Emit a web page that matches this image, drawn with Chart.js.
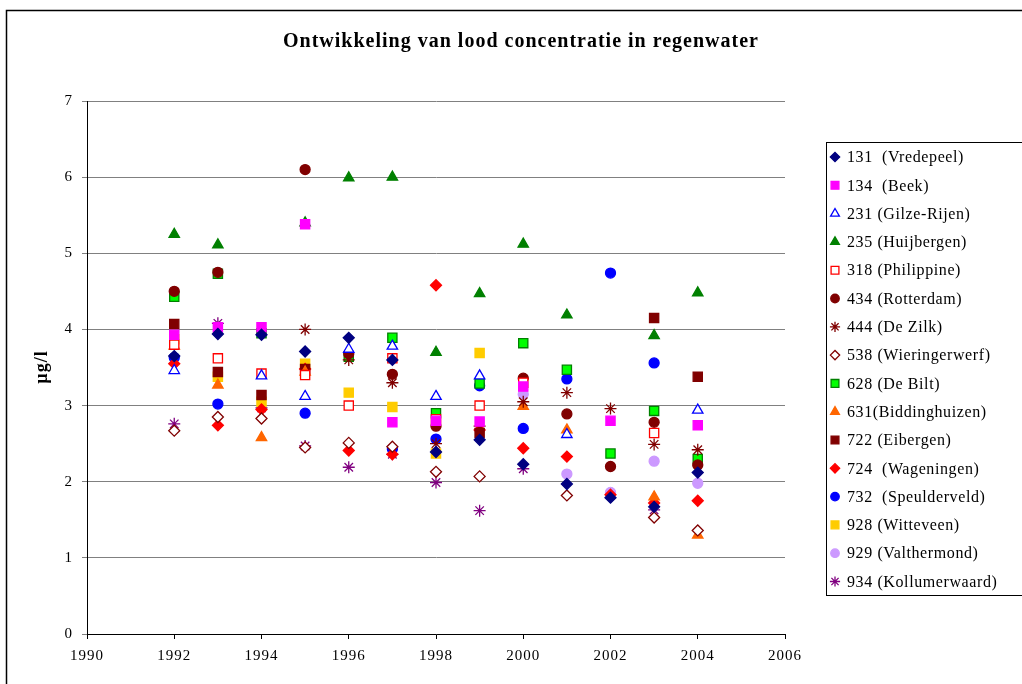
<!DOCTYPE html>
<html>
<head>
<meta charset="utf-8">
<script src="https://cdn.jsdelivr.net/npm/chart.js@4/dist/chart.umd.min.js"></script>
<style>
  body { margin: 0; background: #fff; }
  #wrap { position: relative; width: 1022px; height: 684px; }
</style>
</head>
<body>
<div id="wrap"><canvas id="leadChart" width="1022" height="684"></canvas></div>
<script>
const years = [1992, 1993, 1994, 1995, 1996, 1997, 1998, 1999, 2000, 2001, 2002, 2003, 2004];
const xTicks = [1990, 1992, 1994, 1996, 1998, 2000, 2002, 2004, 2006];
const yTicks = [0, 1, 2, 3, 4, 5, 6, 7];

const stations = ["131  (Vredepeel)", "134  (Beek)", "231 (Gilze-Rijen)", "235 (Huijbergen)",
    "318 (Philippine)", "434 (Rotterdam)", "444 (De Zilk)", "538 (Wieringerwerf)",
    "628 (De Bilt)", "631(Biddinghuizen)", "722 (Eibergen)", "724  (Wageningen)",
    "732  (Speulderveld)", "928 (Witteveen)", "929 (Valthermond)", "934 (Kollumerwaard)"];

// values per station, 1992 .. 2004 (null = no measurement)
const vredepeel     = [3.65, 3.94, 3.93, 3.71, 3.89, 3.60, 2.39, 2.55, 2.23, 1.97, 1.79, 1.67, 2.12];
const beek          = [3.93, 4.03, 4.03, 5.38, null, 2.78, 2.80, 2.79, 3.25, null, 2.80, null, 2.74];
const gilzeRijen    = [3.46, null, 3.39, 3.12, 3.74, 3.78, 3.12, 3.39, null, 2.62, null, null, 2.94];
const huijbergen    = [5.25, 5.11, null, 5.40, 5.99, 6.00, 3.70, 4.47, 5.12, 4.19, null, 3.92, 4.48];
const philippine    = [3.80, 3.62, 3.42, 3.40, 3.00, 3.62, 2.82, 3.00, 3.30, null, null, 2.64, null];
const rotterdam     = [4.50, 4.75, null, 6.10, 3.68, 3.41, 2.73, null, 3.36, 2.89, 2.20, 2.78, 2.22];
const deZilk        = [null, null, null, 4.00, 3.60, 3.30, 2.50, 2.73, 3.05, 3.17, 2.96, 2.49, 2.42];
const wieringerwerf = [2.67, 2.85, 2.83, 2.45, 2.51, 2.46, 2.13, 2.07, null, 1.82, null, 1.53, 1.36];
const deBilt        = [4.43, 4.73, 3.95, null, 3.64, 3.89, 2.90, 3.29, 3.82, 3.47, 2.37, 2.93, 2.30];
const biddinghuizen = [3.78, 3.27, 2.58, 3.44, null, null, null, null, 2.99, 2.68, null, 1.80, 1.30];
const eibergen      = [4.07, 3.44, 3.14, 3.48, null, null, null, 2.64, null, null, null, 4.15, 3.38];
const wageningen    = [3.55, 2.74, 2.95, 3.48, 2.41, 2.36, 4.58, 2.68, 2.44, 2.33, 1.83, 1.72, 1.75];
const speulderveld  = [3.63, 3.02, null, 2.90, null, 2.43, 2.56, 3.26, 2.70, 3.35, 4.74, 3.56, null];
const witteveen     = [3.87, 3.38, 3.05, 3.55, 3.17, 2.98, 2.37, 3.69, null, null, null, null, null];
const valthermond   = [null, null, null, null, null, null, null, null, 3.15, 2.10, 1.86, 2.27, 1.98];
const kollumerwaard = [2.76, 4.08, 2.97, 2.47, 2.19, 2.36, 1.99, 1.62, 2.17, null, null, 1.63, null];

const seriesValues = [vredepeel, beek, gilzeRijen, huijbergen, philippine, rotterdam, deZilk,
    wieringerwerf, deBilt, biddinghuizen, eibergen, wageningen, speulderveld, witteveen,
    valthermond, kollumerwaard];

// marker style for each station: [pointStyle, fill, border, radius]
const markers = [
    ["rectRot", "#000080", "#000080", 5.5],
    ["rect", "#ff00ff", "#ff00ff", 6.5],
    ["triangle", "#ffffff", "#0000ff", 6],
    ["triangle", "#008000", "#008000", 6],
    ["rect", "#ffffff", "#ff0000", 6.5],
    ["circle", "#800000", "#800000", 5],
    ["star", "#800000", "#800000", 6],
    ["rectRot", "#ffffff", "#800000", 5.5],
    ["rect", "#00ff00", "#008000", 6.5],
    ["triangle", "#ff6600", "#ff6600", 6],
    ["rect", "#800000", "#800000", 6.5],
    ["rectRot", "#ff0000", "#ff0000", 5.5],
    ["circle", "#0000ff", "#0000ff", 5],
    ["rect", "#ffcc00", "#ffcc00", 6.5],
    ["circle", "#cc99ff", "#cc99ff", 5],
    ["star", "#800080", "#800080", 6]
];

const datasets = stations.map((name, i) => ({
    label: name,
    data: years.map((yr, j) => ({ x: yr, y: seriesValues[i][j] })).filter(p => p.y !== null),
    pointStyle: markers[i][0],
    backgroundColor: markers[i][1],
    borderColor: markers[i][2],
    pointRadius: markers[i][3],
    pointBorderWidth: 1.3,
    showLine: false
}));

const serif = "'Liberation Serif', 'DejaVu Serif', serif";

// wider letter spacing, like the original rendering
const spacing = {
    id: "spacing",
    beforeDraw(chart) { chart.ctx.letterSpacing = "1px"; }
};

// title, y label, frame and legend box
const decor = {
    id: "decor",
    afterDraw(chart) {
        const ctx = chart.ctx;
        ctx.save();
        ctx.strokeStyle = "#000";
        ctx.lineWidth = 1.5;
        ctx.strokeRect(6.5, 10.5, 1030, 700);

        ctx.fillStyle = "#000";
        ctx.textAlign = "center";
        ctx.textBaseline = "middle";
        ctx.letterSpacing = "1px";
        ctx.font = "bold 20px " + serif;
        ctx.fillText("Ontwikkeling van lood concentratie in regenwater", 521, 42);

        ctx.save();
        ctx.translate(42, 367);
        ctx.rotate(-Math.PI / 2);
        ctx.font = "bold 18px " + serif;
        ctx.fillText("µg/l", 0, 0);
        ctx.restore();

        // legend
        ctx.lineWidth = 1;
        ctx.strokeRect(826.5, 142.5, 220, 453);
        ctx.font = "16px " + serif;
        ctx.letterSpacing = "0.6px";
        ctx.textAlign = "left";
        chart.data.datasets.forEach((ds, i) => {
            const y = 157 + i * 28.3;
            ctx.fillStyle = ds.backgroundColor;
            ctx.strokeStyle = ds.borderColor;
            ctx.lineWidth = 1.3;
            Chart.helpers.drawPoint(ctx, {
                pointStyle: ds.pointStyle,
                radius: ds.pointRadius * 0.85,
                borderWidth: 1.3
            }, 835, y);
            ctx.fillStyle = "#000";
            ctx.fillText(ds.label, 847, y + 1);
        });
        ctx.restore();
    }
};

new Chart(document.getElementById("leadChart"), {
    type: "scatter",
    data: { datasets: datasets },
    options: {
        responsive: false,
        animation: false,
        layout: { padding: { top: 101, right: 237, bottom: 0, left: 0 } },
        plugins: {
            legend: { display: false },
            title: { display: false },
            tooltip: { enabled: false }
        },
        scales: {
            x: {
                type: "linear",
                min: xTicks[0],
                max: xTicks[xTicks.length - 1],
                afterBuildTicks: s => { s.ticks = xTicks.map(v => ({ value: v })); },
                afterFit: s => { s.height = 50; },
                grid: { drawOnChartArea: false, drawTicks: true, tickLength: 5, color: "#000" },
                border: { color: "#000", width: 1 },
                ticks: { color: "#000", font: { family: serif, size: 15 }, padding: 8,
                    callback: v => String(v) }
            },
            y: {
                min: yTicks[0],
                max: yTicks[yTicks.length - 1],
                afterBuildTicks: s => { s.ticks = yTicks.map(v => ({ value: v })); },
                afterFit: s => { s.width = 87; },
                grid: { color: "#808080", lineWidth: 1, drawTicks: true, tickLength: 5 },
                border: { color: "#000", width: 1 },
                ticks: { color: "#000", font: { family: serif, size: 15 }, padding: 9 }
            }
        }
    },
    plugins: [spacing, decor]
});
</script>
</body>
</html>
